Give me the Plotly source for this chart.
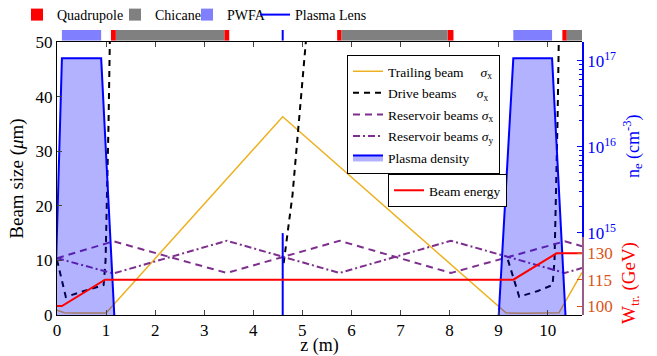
import plotly.graph_objects as go

# ---------------- data ----------------
# beamline elements (top bar), z in m
quad_start = [1.10, 3.41, 5.71, 7.96, 10.30]
quad_len = [0.10, 0.10, 0.09, 0.12, 0.09]
chicane_start = [1.20, 5.80, 10.39]
chicane_len = [2.21, 2.16, 0.40]
pwfa_start = [0.10, 9.30]
pwfa_len = [0.80, 0.79]
lens_z = [4.60, 4.60]
lens_size = [0.0, 15.0]

# beam sizes (um)
trailing_z = [0.0, 0.15, 0.4, 0.7, 1.0, 4.6, 9.15, 9.5, 9.9, 10.23, 10.7]
trailing_s = [0.9, 0.4, 0.35, 0.4, 0.35, 36.3, 0.4, 0.3, 0.35, 0.4, 7.8]

drive_z = [0.0, 0.18, 0.55, 0.95, 0.99, 1.02, 1.05, 1.08, None,
           4.62, 4.80, 5.12, None,
           9.19, 9.42, 9.8, 10.10, 10.14, 10.17, 10.20, 10.23]
drive_s = [10.1, 3.3, 4.4, 5.5, 10, 20, 35, 52, None,
           9.5, 22, 55, None,
           10.1, 3.35, 4.4, 5.5, 10, 20, 35, 52]

res_z = [0.0, 1.15, 3.46, 5.76, 8.03, 10.35, 10.7]
res_sx = [10.4, 13.5, 7.7, 13.6, 7.7, 13.5, 12.6]
res_sy = [10.4, 7.6, 13.6, 7.7, 13.6, 7.7, 8.6]

# plasma density (cm^-3)
plasma_z = [-0.15, 0.10, 0.90, 1.35, None, 8.80, 9.30, 10.09, 10.55]
plasma_n = [1e12, 1.07e17, 1.07e17, 1e12, None, 1e12, 1.07e17, 1.07e17, 1e12]

# trailing beam energy (GeV)
energy_z = [0.0, 0.10, 0.98, 9.30, 10.18, 10.7]
energy_W = [100, 100, 115, 115, 130, 130]

# axis tick labels
ne_ticks = [1e15, 1e16, 1e17]
ne_ticktext = ["10<sup>15</sup>", "10<sup>16</sup>", "10<sup>17</sup>"]
W_ticks = [100, 115, 130]

# ---------------- figure ----------------
FONT = "Liberation Serif"
ORANGE = "#EDB120"
PURPLE = "#7E2F8E"
WCOL = "#D95319"
NB = "&nbsp;"

fig = go.Figure()

fig.add_trace(go.Bar(y=[0] * len(quad_start), x=quad_len, base=quad_start, orientation="h",
                     width=1, marker=dict(color="#FF0000", line=dict(width=0)),
                     name="Quadrupole", xaxis="x2", yaxis="y2", legend="legend", legendwidth=53))
fig.add_trace(go.Bar(y=[0] * len(chicane_start), x=chicane_len, base=chicane_start, orientation="h",
                     width=1, marker=dict(color="#808080", line=dict(width=0)),
                     name="Chicane", xaxis="x2", yaxis="y2", legend="legend", legendwidth=27))
fig.add_trace(go.Bar(y=[0] * len(pwfa_start), x=pwfa_len, base=pwfa_start, orientation="h",
                     width=1, marker=dict(color="#8080FF", line=dict(width=0)),
                     name="PWFA", xaxis="x2", yaxis="y2", legend="legend", legendwidth=23))
fig.add_trace(go.Scatter(x=lens_z, y=[-0.5, 0.5], mode="lines", line=dict(color="#0000FF", width=2),
                         name="Plasma Lens", xaxis="x2", yaxis="y2", legend="legend", legendwidth=70))

fig.add_trace(go.Scatter(x=trailing_z, y=trailing_s, mode="lines",
                         line=dict(color=ORANGE, width=1.5),
                         name="Trailing beam " + NB * 4 + "<i>σ</i><sub>x</sub>",
                         legend="legend2", legendgroup="g1"))
fig.add_trace(go.Scatter(x=drive_z, y=drive_s, mode="lines", connectgaps=False,
                         line=dict(color="black", width=2, dash="6px,5px"),
                         name="Drive beams " + NB * 5 + "<i>σ</i><sub>x</sub>",
                         legend="legend2", legendgroup="g2"))
fig.add_trace(go.Scatter(x=res_z, y=res_sx, mode="lines",
                         line=dict(color=PURPLE, width=2, dash="7px,5px"),
                         name="Reservoir beams <i>σ</i><sub>x</sub>", legend="legend2",
                         legendgroup="g3"))
fig.add_trace(go.Scatter(x=res_z, y=res_sy, mode="lines",
                         line=dict(color=PURPLE, width=2, dash="7px,3px,2px,3px"),
                         name="Reservoir beams <i>σ</i><sub>y</sub>", legend="legend2",
                         legendgroup="g4"))
fig.add_trace(go.Scatter(x=lens_z, y=lens_size, mode="lines", line=dict(color="#0000FF", width=2),
                         showlegend=False))

fig.add_trace(go.Scatter(x=plasma_z, y=plasma_n, mode="lines", fill="toself",
                         fillcolor="rgba(0,0,255,0.3)", line=dict(color="#0000FF", width=2),
                         name="Plasma density", yaxis="y3", legend="legend2", legendgroup="g5"))
fig.add_trace(go.Scatter(x=plasma_z, y=plasma_n, mode="lines", opacity=0, line=dict(width=0),
                         showlegend=False, hoverinfo="skip", yaxis="y4"))

fig.add_trace(go.Scatter(x=energy_z, y=energy_W, mode="lines", line=dict(color="#FF0000", width=2),
                         name="Beam energy", yaxis="y5", legend="legend3"))
fig.add_trace(go.Scatter(x=energy_z, y=energy_W, mode="lines", opacity=0, line=dict(width=0),
                         showlegend=False, hoverinfo="skip", yaxis="y6"))

L, R, T, B = 57, 75, 30, 41
W_, H_ = 657, 356
ph = H_ - T - B
main_top = (315 - 42) / ph
bar_bot = (315 - 40.7) / ph
split = (315 - 237) / ph

minor_ne = [m * 10 ** e for e in (14, 15, 16) for m in range(2, 10)]
tickfont = dict(family=FONT, size=17, color="black")

fig.update_layout(
    template="none",
    width=W_, height=H_,
    margin=dict(l=L, r=R, t=T, b=B, autoexpand=False),
    paper_bgcolor="white", plot_bgcolor="rgba(0,0,0,0)",
    barmode="overlay",
    font=dict(family=FONT, size=15, color="black"),
    xaxis=dict(range=[0, 10.7], tickvals=list(range(11)), ticks="inside", ticklen=5,
               showline=True, linecolor="black", linewidth=1, mirror="ticks",
               showgrid=False, zeroline=False, tickfont=tickfont, automargin=False,
               title=dict(text="z (m)", font=dict(family=FONT, size=18), standoff=4),
               anchor="y"),
    yaxis=dict(domain=[0, main_top], range=[0, 50], tickvals=[0, 10, 20, 30, 40, 50],
               ticks="inside", ticklen=5, showline=True, linecolor="black", linewidth=1,
               showgrid=False, zeroline=False, tickfont=tickfont, automargin=False,
               title=dict(text="Beam size (<i>μ</i>m)", font=dict(family=FONT, size=19), standoff=6),
               anchor="x"),
    xaxis2=dict(matches="x", anchor="y2", visible=False, range=[0, 10.7]),
    yaxis2=dict(domain=[bar_bot, 1], range=[-0.5, 0.5], visible=False, anchor="x2"),
    yaxis3=dict(overlaying="y", type="log", range=[14.04, 17.22], visible=False),
    yaxis4=dict(domain=[split, main_top], anchor="x", side="right", type="log",
                range=[14.95, 17.22], tickvals=ne_ticks, ticktext=ne_ticktext,
                ticks="inside", ticklen=5, tickcolor="#0000FF", automargin=False,
                showline=True, linecolor="#0000FF", linewidth=1.5,
                showgrid=False, zeroline=False,
                tickfont=dict(family=FONT, size=17, color="#0000FF"),
                minor=dict(tickmode="array", tickvals=minor_ne, ticks="inside", ticklen=3,
                           tickcolor="#0000FF", showgrid=False)),
    yaxis5=dict(overlaying="y", range=[94.9, 250.3], visible=False),
    yaxis6=dict(domain=[0, split], anchor="x", side="right",
                range=[94.9, 139.3], tickvals=W_ticks,
                ticks="inside", ticklen=5, tickcolor=WCOL, automargin=False,
                showline=True, linecolor="#9A5A8A", linewidth=1.5,
                showgrid=False, zeroline=False,
                tickfont=dict(family=FONT, size=17, color=WCOL)),
    legend=dict(orientation="h", xref="container", yref="container",
                x=17 / W_, y=1 - 15 / H_, xanchor="left", yanchor="middle",
                font=dict(family=FONT, size=14), bgcolor="rgba(0,0,0,0)", itemwidth=30,
                traceorder="normal"),
    legend2=dict(xref="container", yref="container",
                 x=347 / W_, y=1 - 55 / H_, xanchor="left", yanchor="top",
                 bordercolor="black", borderwidth=1, bgcolor="white", itemwidth=30,
                 font=dict(family=FONT, size=13.5), tracegroupgap=1, traceorder="grouped"),
    legend3=dict(xref="container", yref="container",
                 x=388 / W_, y=1 - 174 / H_, xanchor="left", yanchor="top",
                 bordercolor="black", borderwidth=1, bgcolor="white", itemwidth=30,
                 font=dict(family=FONT, size=13.5)),
    annotations=[
        dict(text="n<sub>e</sub> (cm<sup>-3</sup>)", xref="paper", yref="paper",
             x=(632 - L) / 525, y=(315 - 146) / ph, xanchor="center", yanchor="middle",
             showarrow=False, textangle=-90,
             font=dict(family=FONT, size=18, color="#0000FF")),
        dict(text="W<sub>tr.</sub> (GeV)", xref="paper", yref="paper",
             x=(630 - L) / 525, y=(315 - 283) / ph, xanchor="center", yanchor="middle",
             showarrow=False, textangle=-90,
             font=dict(family=FONT, size=19, color="#FF0000")),
    ],
)

fig.write_html("out.html", post_script="document.body.style.margin='0';",
               config={"displayModeBar": False})
